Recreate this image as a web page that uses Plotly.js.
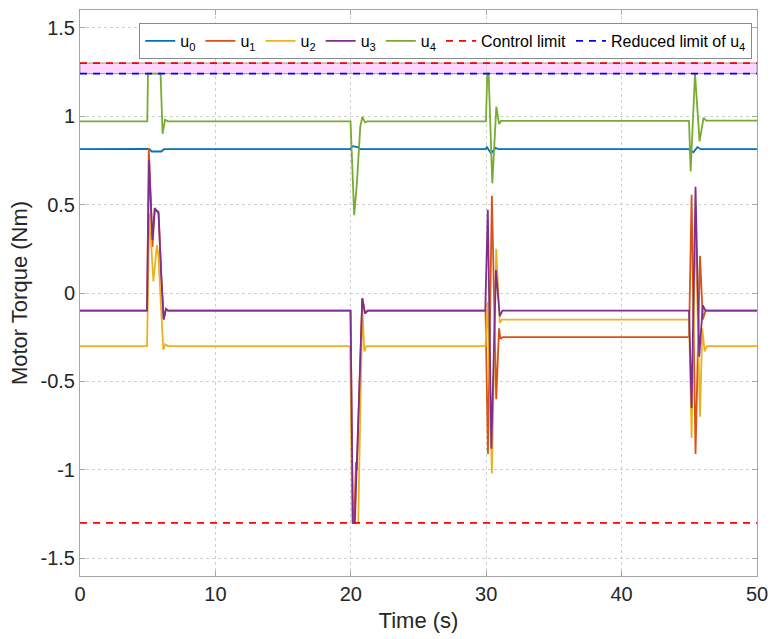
<!DOCTYPE html>
<html>
<head>
<meta charset="utf-8">
<script src="https://cdn.plot.ly/plotly-3.0.1.min.js"></script>
<style>html,body{margin:0;padding:0;background:#fff;}#chart{width:773px;height:639px;}</style>
</head>
<body>
<div id="chart"></div>
<script>
// ---- data ----
const seriesNames = ["u<sub>0</sub>", "u<sub>1</sub>", "u<sub>2</sub>", "u<sub>3</sub>", "u<sub>4</sub>"];

const t0 = [0, 4.95, 5.1, 5.3, 6.0, 6.2, 19.95, 20.1, 20.5, 20.7, 29.95, 30.05, 30.35, 30.7, 30.9, 44.95, 45.3, 45.6, 45.85, 50];
const u0 = [0.813, 0.813, 0.815, 0.80, 0.80, 0.813, 0.813, 0.83, 0.825, 0.813, 0.813, 0.825, 0.79, 0.82, 0.813, 0.813, 0.795, 0.825, 0.813, 0.813];

const t1 = [0, 4.95, 5.08, 5.35, 5.52, 5.8, 6.0, 6.18, 6.35, 6.5,
            19.98, 20.15, 20.25, 20.38, 20.45, 20.85, 21.05, 21.25,
            29.95, 30.13, 30.42, 30.74, 30.95, 31.05, 31.2,
            44.98, 45.17, 45.46, 45.79, 46.0, 46.2, 50];
const u1 = [-0.1, -0.1, 0.82, 0.26, 0.47, 0.46, 0.1, -0.15, -0.09, -0.1,
            -0.1, -1.3, -1.3, -0.955, -1.0, -0.03, -0.115, -0.1,
            -0.1, -0.91, 0.55, -0.6, -0.2, -0.26, -0.25,
            -0.25, 0.555, -0.91, 0.21, -0.15, -0.1, -0.1];

const t2 = [0, 4.95, 5.12, 5.42, 5.68, 5.78, 6.15, 6.3, 6.5,
            19.95, 20.12, 20.55, 20.85, 21.0, 21.15,
            29.95, 30.1, 30.42, 30.74, 31.0, 31.15,
            44.98, 45.17, 45.46, 45.79, 45.96, 46.13, 46.3, 50];
const u2 = [-0.3, -0.3, 0.45, 0.065, 0.27, 0.22, -0.32, -0.29, -0.3,
            -0.3, -1.3, -1.3, -0.08, -0.33, -0.3,
            -0.3, -0.05, -1.02, 0.25, -0.17, -0.15,
            -0.15, -0.82, 0.4, -0.70, -0.2, -0.33, -0.3, -0.3];

const t3 = [0, 4.95, 5.1, 5.35, 5.52, 5.8, 6.0, 6.18, 6.35, 6.5,
            19.98, 20.15, 20.3, 20.85, 21.05, 21.25,
            29.93, 30.12, 30.38, 30.72, 31.0, 31.2,
            44.98, 45.17, 45.46, 45.73, 46.0, 46.2, 50];
const u3 = [-0.1, -0.1, 0.75, 0.30, 0.48, 0.45, 0.1, -0.15, -0.09, -0.1,
            -0.1, -1.3, -1.3, -0.03, -0.115, -0.1,
            -0.1, 0.47, -0.88, 0.13, -0.13, -0.1,
            -0.1, -0.65, 0.6, -0.36, -0.07, -0.1, -0.1];

const t4 = [0, 4.97, 5.02, 5.95, 6.1, 6.28, 6.5,
            19.98, 20.25, 20.45, 20.7, 20.85, 21.05, 21.2,
            29.98, 30.08, 30.18, 30.45, 30.75, 30.95, 31.1,
            44.98, 45.1, 45.42, 45.76, 46.05, 46.25, 50];
const u4 = [0.97, 0.97, 1.24, 1.24, 0.90, 0.98, 0.97,
            0.97, 0.44, 0.62, 0.94, 0.995, 0.965, 0.97,
            0.97, 1.24, 1.24, 0.62, 1.054, 0.956, 0.973,
            0.973, 0.687, 1.24, 0.857, 0.99, 0.975, 0.975];

const controlLimit = 1.3;
const reducedLimit = 1.24;
const tRange = [0, 50];

const xTicks = [0, 10, 20, 30, 40, 50];
const yTicks = [-1.5, -1, -0.5, 0, 0.5, 1, 1.5];
const yTickText = ["-1.5", "-1", "-0.5", "0", "0.5", "1", "1.5"];

// ---- styles ----
const colors = ["#0072BD", "#D95319", "#EDB120", "#7E2F8E", "#77AC30"];
const times = [t0, t1, t2, t3, t4];
const vals = [u0, u1, u2, u3, u4];
const FONT = "Liberation Sans, Arial, Helvetica, sans-serif";

const traces = [];
for (let i = 0; i < 5; i++) {
  traces.push({
    x: times[i], y: vals[i], type: "scatter", mode: "lines",
    name: seriesNames[i], line: {color: colors[i], width: 1.8}
  });
}
traces.push({
  x: [tRange[0], tRange[1], null, tRange[0], tRange[1]],
  y: [controlLimit, controlLimit, null, -controlLimit, -controlLimit],
  type: "scatter", mode: "lines", name: "Control limit",
  line: {color: "#FF0000", width: 1.8, dash: "7px,6px"}
});
traces.push({
  x: tRange, y: [reducedLimit, reducedLimit],
  type: "scatter", mode: "lines", name: "Reduced limit of u<sub>4</sub>",
  line: {color: "#0000FF", width: 1.8, dash: "7px,6px"}
});

const axisCommon = {
  showline: true, mirror: "ticks", linecolor: "#a6a6a6", linewidth: 1,
  ticks: "inside", ticklen: 5, tickcolor: "#a6a6a6",
  showgrid: true, gridcolor: "#cfcfcf", griddash: "dot", gridwidth: 1,
  zeroline: false,
  tickfont: {family: FONT, size: 20, color: "#262626"}
};

const layout = {
  width: 773, height: 639,
  margin: {l: 80, r: 16, t: 10, b: 63},
  paper_bgcolor: "#fff", plot_bgcolor: "#fff",
  showlegend: true,
  legend: {
    orientation: "h", x: 0.993, xanchor: "right", y: 0.977, yanchor: "top",
    bgcolor: "#fff", bordercolor: "#8a8a8a", borderwidth: 1,
    font: {family: FONT, size: 16, color: "#000"},
    itemwidth: 30, tracegroupgap: 0, traceorder: "normal"
  },
  xaxis: Object.assign({}, axisCommon, {
    range: tRange, tickvals: xTicks,
    title: {text: "Time (s)", font: {family: FONT, size: 22, color: "#262626"}, standoff: 8}
  }),
  yaxis: Object.assign({}, axisCommon, {
    range: [-1.6, 1.6], tickvals: yTicks, ticktext: yTickText,
    title: {text: "Motor Torque (Nm)", font: {family: FONT, size: 22, color: "#262626"}, standoff: 6}
  }),
  shapes: [{
    type: "rect", xref: "x", yref: "y", layer: "below",
    x0: tRange[0], x1: tRange[1], y0: reducedLimit, y1: controlLimit,
    fillcolor: "rgba(255,0,255,0.16)", line: {color: "#9a9a9a", width: 1}
  }]
};

Plotly.newPlot("chart", traces, layout, {displayModeBar: false, staticPlot: true});
</script>
</body>
</html>
